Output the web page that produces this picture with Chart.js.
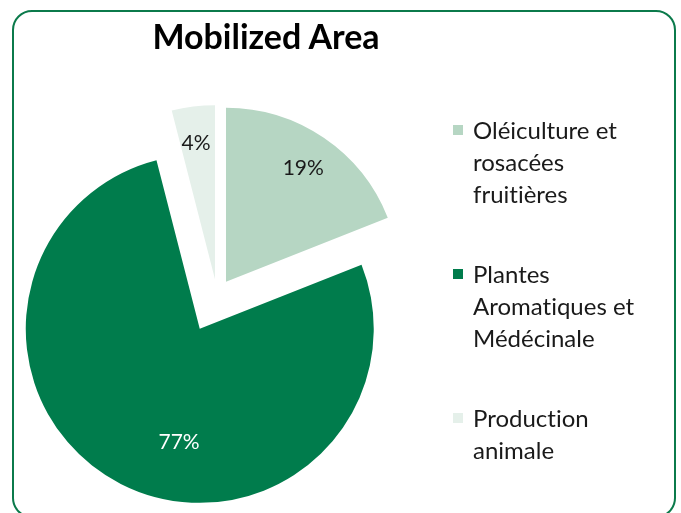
<!DOCTYPE html>
<html>
<head>
<meta charset="utf-8">
<script src="https://cdn.jsdelivr.net/npm/chart.js@4/dist/chart.umd.min.js"></script>
<style>
  body { margin: 0; width: 681px; height: 513px; overflow: hidden; background: #fff; font-family: Lato, "Open Sans", sans-serif;
         font-variant-ligatures: none; }
  #frame { position: absolute; left: 12px; top: 10px; width: 664px; height: 508px; box-sizing: border-box;
           border: 2px solid #0b7a4b; border-radius: 20px; }
  #chart { position: absolute; left: 0; top: 0; }
  #title { position: absolute; left: 0; top: 15px; width: 532px; text-align: center;
           font-size: 34px; font-weight: bold; color: #000; }
  #legend { position: absolute; left: 453px; top: 114px; margin: 0; padding: 0; list-style: none; }
  #legend li { position: relative; padding-left: 20px; margin-bottom: 48px; font-size: 24px; line-height: 32px; color: #1a1a1a; }
  #legend li span { position: absolute; left: 0; top: 11px; width: 10px; height: 10px; }
</style>
</head>
<body>
<div id="frame"></div>
<canvas id="chart" width="681" height="513"></canvas>
<div id="title">Mobilized Area</div>
<ul id="legend"></ul>
<script>
// data
const labels = [
  ['Oléiculture et', 'rosacées', 'fruitières'],
  ['Plantes', 'Aromatiques et', 'Médécinale'],
  ['Production', 'animale']
];
const shares = [19, 77, 4];
const colors = ['#b6d6c3', '#007c4c', '#e5f0ea'];

// push slices out along their middle angle (pixels), Excel-style explode
const explodePlugin = {
  id: 'explode',
  afterDatasetUpdate(chart, args, opts) {
    args.meta.data.forEach((arc, i) => {
      const d = opts.offsets[i] || 0;
      const mid = (arc.startAngle + arc.endAngle) / 2;
      arc.x += Math.cos(mid) * d;
      arc.y += Math.sin(mid) * d;
    });
  }
};

// percent labels inside the slices
const pctLabels = {
  id: 'pctLabels',
  afterDatasetsDraw(chart, args, opts) {
    const ctx = chart.ctx;
    const meta = chart.getDatasetMeta(0);
    ctx.save();
    ctx.font = opts.font;
    ctx.textAlign = 'center';
    ctx.textBaseline = 'middle';
    meta.data.forEach((arc, i) => {
      const a = arc.startAngle + (arc.endAngle - arc.startAngle) * opts.at[i];
      const r = arc.outerRadius * opts.dist[i];
      ctx.fillStyle = opts.colors[i];
      ctx.fillText(shares[i] + '%', arc.x + Math.cos(a) * r, arc.y + Math.sin(a) * r);
    });
    ctx.restore();
  }
};

new Chart(document.getElementById('chart'), {
  type: 'pie',
  data: {
    labels: labels,
    datasets: [{
      data: shares,
      backgroundColor: colors,
      borderWidth: 0,
      hoverOffset: 0,
      clip: false
    }]
  },
  options: {
    responsive: false,
    animation: false,
    events: [],
    layout: { padding: { left: 43, top: 121, right: 290, bottom: 44 } },
    plugins: {
      legend: { display: false },
      title: { display: false },
      tooltip: { enabled: false },
      explode: { offsets: [16, 38, 16] },
      pctLabels: {
        font: '21px Lato, "Open Sans", sans-serif',
        at: [0.5, 0.44, 0.45],
        dist: [0.79, 0.66, 0.79],
        colors: ['#1a1a1a', '#ffffff', '#1a1a1a']
      }
    }
  },
  plugins: [explodePlugin, pctLabels]
});

// legend built from the same arrays
const ul = document.getElementById('legend');
labels.forEach((lines, i) => {
  const li = document.createElement('li');
  li.innerHTML = '<span style="background:' + colors[i] + '"></span>' + lines.join('<br>');
  ul.appendChild(li);
});
</script>
</body>
</html>
